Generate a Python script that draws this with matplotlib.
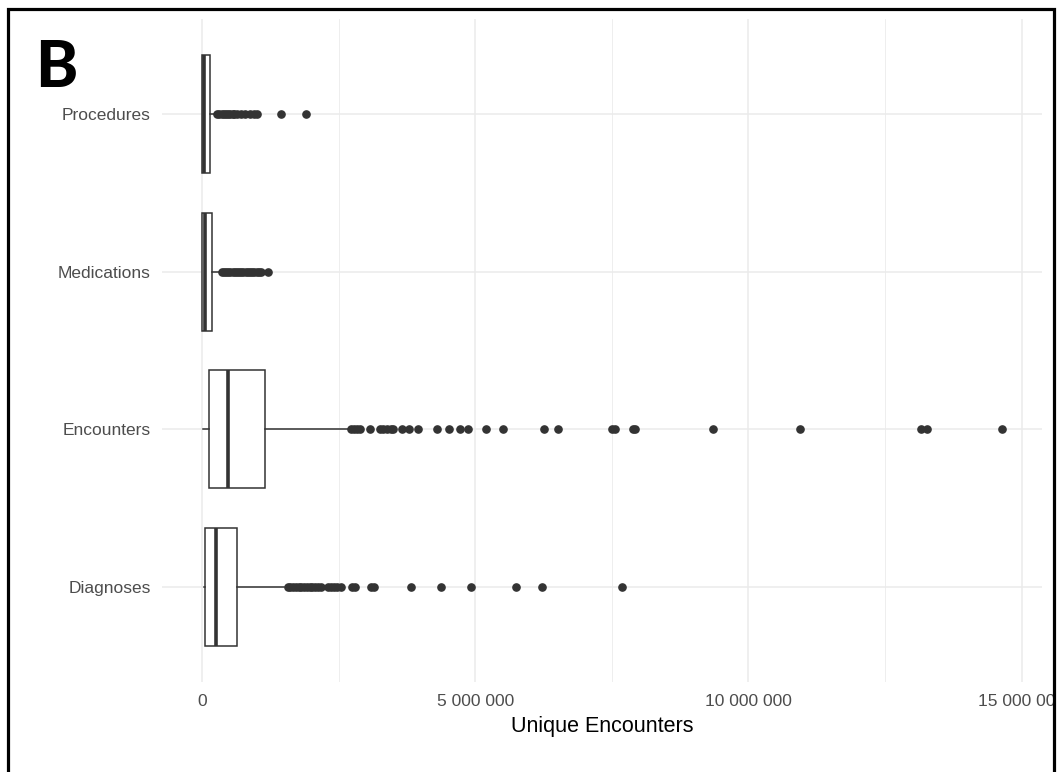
import numpy as np
import matplotlib
matplotlib.use("Agg")
import matplotlib.pyplot as plt
from matplotlib.ticker import FuncFormatter, MultipleLocator
from matplotlib.lines import Line2D
from matplotlib.patches import Rectangle

plt.rcParams['font.family'] = ['Liberation Sans', 'DejaVu Sans']

# values in millions of unique encounters
categories = ["Diagnoses", "Encounters", "Medications", "Procedures"]
q1 = [0.055, 0.12, 0.005, 0.005]
median = [0.26, 0.47, 0.05, 0.03]
q3 = [0.64, 1.15, 0.18, 0.15]
whisker_lo = [0.03, 0.02, 0.0, 0.0]
whisker_hi = [1.50, 2.68, 0.35, 0.27]

diag_out = [1.57, 1.62, 1.67, 1.72, 1.77, 1.82, 1.87, 1.92, 1.97, 2.02, 2.07, 2.12, 2.17,
            2.30, 2.36, 2.42, 2.48, 2.55, 2.74, 2.80, 3.10, 3.15, 3.83, 4.37, 4.92,
            5.74, 6.23, 7.68]
enc_out = [2.72, 2.78, 2.84, 2.90, 3.07, 3.26, 3.32, 3.38, 3.45, 3.50, 3.66, 3.78, 3.96,
           4.30, 4.52, 4.72, 4.86, 5.19, 5.50, 6.25, 6.51, 7.50, 7.56, 7.88, 7.92,
           9.36, 10.95, 13.16, 13.27, 14.64]
med_out = [0.36, 0.40, 0.44, 0.48, 0.52, 0.56, 0.60, 0.64, 0.68, 0.72, 0.76, 0.80,
           0.84, 0.88, 0.92, 0.96, 1.00, 1.04, 1.08, 1.20]
proc_out = [0.28, 0.32, 0.36, 0.40, 0.44, 0.48, 0.52, 0.56, 0.59, 0.64, 0.71, 0.79,
            0.87, 0.95, 1.00, 1.44, 1.90]
outliers = [diag_out, enc_out, med_out, proc_out]

stats = []
for i, name in enumerate(categories):
    stats.append(dict(label=name, q1=q1[i] * 1e6, med=median[i] * 1e6, q3=q3[i] * 1e6,
                      whislo=whisker_lo[i] * 1e6, whishi=whisker_hi[i] * 1e6,
                      fliers=np.array(outliers[i]) * 1e6))

fig = plt.figure(figsize=(10.62, 7.72), dpi=100)
ax = fig.add_axes([0.1525, 0.1171, 0.8287, 0.8578])

dark = "#333333"
ax.bxp(stats, positions=[1, 2, 3, 4], widths=0.75, orientation="horizontal",
       showcaps=False, patch_artist=True,
       boxprops=dict(facecolor="white", edgecolor=dark, linewidth=1.1),
       whiskerprops=dict(color=dark, linewidth=1.1),
       medianprops=dict(color=dark, linewidth=2.6, solid_capstyle="butt"),
       flierprops=dict(marker="o", markerfacecolor=dark, markeredgecolor=dark,
                       markersize=5.2, linestyle="none"))

ax.set_ylim(0.4, 4.6)
all_max = max(max(o) for o in outliers) * 1e6
ax.set_xlim(-0.05 * all_max, all_max * 1.05)

ax.xaxis.set_major_locator(MultipleLocator(5e6))
ax.xaxis.set_minor_locator(MultipleLocator(2.5e6))
ax.xaxis.set_major_formatter(FuncFormatter(lambda v, p: f"{v:,.0f}".replace(",", " ")))

ax.grid(True, which="major", color="#EBEBEB", linewidth=1.1)
ax.grid(True, which="minor", axis="x", color="#EBEBEB", linewidth=0.6)
ax.set_axisbelow(True)
for s in ax.spines.values():
    s.set_visible(False)
ax.tick_params(which="both", length=0)
ax.tick_params(axis="x", pad=9, labelsize=12.5, labelcolor="#4D4D4D")
ax.tick_params(axis="y", pad=8, labelsize=12.5, labelcolor="#4D4D4D")
ax.set_xlabel("Unique Encounters", fontsize=15.5, color="black", labelpad=5)

# panel letter and frame
fig.text(0.033, 0.887, "B", fontsize=46, fontweight="black", family="Lato",
         va="baseline", ha="left")
fig.add_artist(Rectangle((0.9935, 0), 0.01, 1, transform=fig.transFigure,
                         facecolor="white", edgecolor="none", zorder=9))
fig.add_artist(Line2D([0.0075, 0.0075, 0.9925, 0.9925], [-0.1, 0.9883, 0.9883, -0.1],
                      transform=fig.transFigure, color="black", linewidth=2.3,
                      solid_joinstyle="miter", zorder=10))

fig.savefig("out.png", dpi=100)
